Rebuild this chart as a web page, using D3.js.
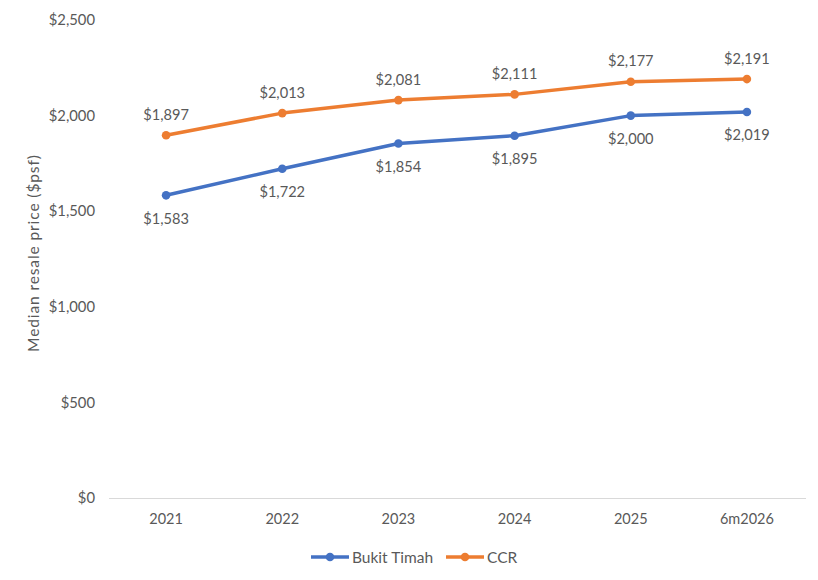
<!DOCTYPE html>
<html lang="en">
<head>
<meta charset="utf-8">
<title>Median resale price</title>
<style>
body{
  margin: 0;
  background: #fff;
}
svg text{
  font-family: Lato, "Open Sans", sans-serif;
  fill: #595959;
}
.axis path, .axis line{
  fill: none;
  shape-rendering: crispEdges;
}
</style>
</head>
<body>
<div id="chart"></div>
<script src="https://d3js.org/d3.v7.min.js"></script>
<script>

const categories = ['2021', '2022', '2023', '2024', '2025', '6m2026'];
const bukitTimah = [1583, 1722, 1854, 1895, 2000, 2019];
const ccr = [1897, 2013, 2081, 2111, 2177, 2191];
const yTicks = [0, 500, 1000, 1500, 2000, 2500];
const seriesNames = ['Bukit Timah', 'CCR'];

const width = 818;
const height = 580;
const margin = { top: 20, right: 13, bottom: 82, left: 108 };
const colours = ['#4472C4', '#ED7D31'];

const svg = d3.select('#chart')
  .append('svg')
  .attr('width', width)
  .attr('height', height);

const plotW = width - margin.left - margin.right;
const plotH = height - margin.top - margin.bottom;

const graph = svg.append('g')
  .attr('transform', 'translate(' + margin.left + ',' + margin.top + ')');

const xS = d3.scaleBand()
  .domain(categories)
  .range([0, plotW]);

const yS = d3.scaleLinear()
  .domain([0, 2500])
  .range([plotH, 0]);

const fmt = v => '$' + d3.format(',')(v);

// y ticks (labels only)
graph.append('g')
  .attr('class', 'axis')
  .call(d3.axisLeft(yS).tickValues(yTicks).tickFormat(fmt).tickSize(0).tickPadding(13))
  .call(g => g.select('.domain').remove())
  .selectAll('text')
  .style('font-size', '14.8px');

// x axis
const xAxis = graph.append('g')
  .attr('class', 'axis')
  .attr('transform', 'translate(0,' + plotH + ')')
  .call(d3.axisBottom(xS).tickSize(0).tickPadding(16));
xAxis.select('.domain').attr('stroke', '#d9d9d9');
xAxis.selectAll('text').style('font-size', '14.5px');

// y label
graph.append('text')
  .attr('transform', 'translate(' + (33 - margin.left) + ',' + (plotH / 2 - 6) + ') rotate(-90)')
  .attr('text-anchor', 'middle')
  .attr('dominant-baseline', 'central')
  .style('font-size', '15.5px')
  .style('letter-spacing', '0.9px')
  .text('Median resale price ($psf)');

const series = [bukitTimah, ccr];
const line = d3.line()
  .x((d, i) => xS(categories[i]) + xS.bandwidth() / 2)
  .y(d => yS(d));

series.forEach((vals, s) => {
  graph.append('path')
    .datum(vals)
    .attr('fill', 'none')
    .attr('stroke', colours[s])
    .attr('stroke-width', 3.5)
    .attr('stroke-linejoin', 'round')
    .attr('stroke-linecap', 'round')
    .attr('d', line);

  graph.selectAll('.pt' + s)
    .data(vals)
    .join('circle')
    .attr('cx', (d, i) => xS(categories[i]) + xS.bandwidth() / 2)
    .attr('cy', d => yS(d))
    .attr('r', 4.3)
    .attr('fill', colours[s]);

  // labels: Bukit Timah below, CCR above
  graph.selectAll('.lbl' + s)
    .data(vals)
    .join('text')
    .attr('x', (d, i) => xS(categories[i]) + xS.bandwidth() / 2)
    .attr('y', d => yS(d) + (s === 0 ? 23 : -21))
    .attr('text-anchor', 'middle')
    .attr('dominant-baseline', 'central')
    .style('font-size', '14.6px')
    .text(fmt);
});

// legend
const legend = svg.append('g')
  .attr('transform', 'translate(311,557)');
const legendX = [0, 135];
seriesNames.forEach((name, s) => {
  const g = legend.append('g').attr('transform', 'translate(' + legendX[s] + ',0)');
  g.append('line')
    .attr('x1', 0).attr('x2', 38)
    .attr('stroke', colours[s])
    .attr('stroke-width', 3.5);
  g.append('circle')
    .attr('cx', 19).attr('r', 4.3)
    .attr('fill', colours[s]);
  g.append('text')
    .attr('x', 41)
    .attr('dominant-baseline', 'central')
    .style('font-size', '15.5px')
    .text(name);
});

</script>
</body>
</html>
